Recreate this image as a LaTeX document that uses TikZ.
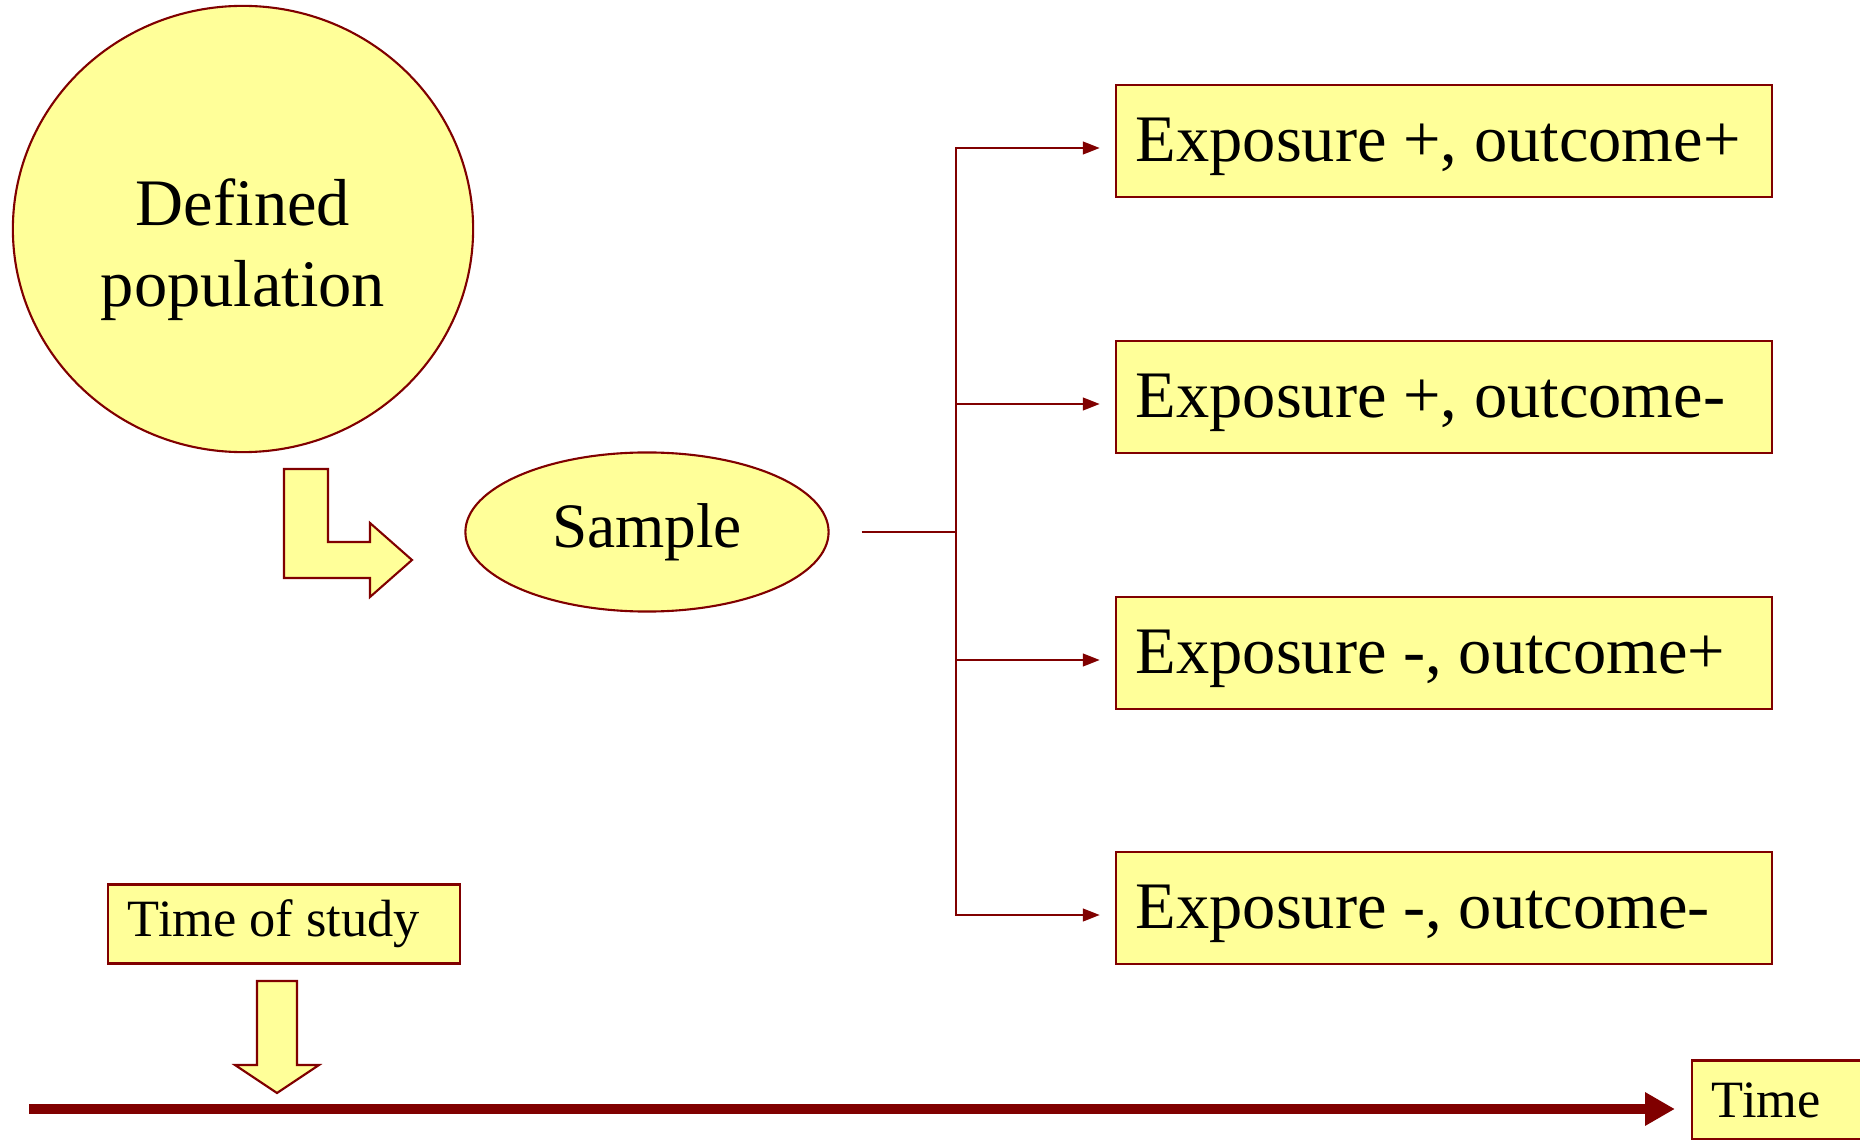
\documentclass[tikz,border=0pt]{standalone}
\usepackage{fontspec}
\setmainfont{Liberation Serif}
\usetikzlibrary{arrows.meta,positioning,shapes.geometric}
\definecolor{maroon}{HTML}{800000}
\definecolor{paleyellow}{HTML}{FFFF99}
\frenchspacing

\begin{document}
\begin{tikzpicture}[x=0.01cm,y=-0.01cm]
\tikzset{yellowfill/.style={draw=maroon,fill=paleyellow,line width=0.6pt}}
\tikzset{bigtext/.style={font=\fontsize{18.9}{23}\selectfont}}
\tikzset{outcome/.style={yellowfill,bigtext,minimum width=6.56cm,minimum height=1.12cm,
text width=6.16cm,align=flush left,inner xsep=0.2cm,text height=0.56cm,text depth=0.15cm}}
\tikzset{smallbox/.style={yellowfill,minimum height=0.79cm,align=flush left,inner xsep=0.2cm,
font=\fontsize{14.9}{17}\selectfont}}
\tikzset{branch/.style={draw=maroon,line width=0.6pt,
-{Triangle[length=4.8pt,width=3.6pt]},shorten >=0.15cm}}
\useasboundingbox (0,0) rectangle (1860,1140);
% population and sample
\node [yellowfill,ellipse,bigtext,minimum width=4.6cm,minimum height=4.46cm,align=center]
(population) at (243,229) {\rule{0pt}{0.88cm}Defined\\population};
\node [yellowfill,ellipse,font=\fontsize{18}{22}\selectfont,minimum width=3.63cm,minimum height=1.59cm]
(sample) at (647,532) {Sample};
\draw [yellowfill] (284,469) -- (328,469) -- (328,542) -- (370,542) -- (370,523)
-- (412,560) -- (370,597) -- (370,578) -- (284,578) -- cycle;
% the four groups
\node [outcome] (pp) at (1444,141) {Exposure +, outcome+};
\node [outcome] (pm) at (1444,397) {Exposure +, outcome-};
\node [outcome] (mp) at (1444,653) {Exposure -, outcome+};
\node [outcome] (mm) at (1444,908) {Exposure -, outcome-};
\coordinate (fork) at (956,532);
\draw [draw=maroon,line width=0.6pt,shorten <=0.32cm] (sample.east) -- (fork);
\draw [branch] (fork) |- ([yshift=-0.07cm]pp.west);
\draw [branch] (fork) |- ([yshift=-0.07cm]pm.west);
\draw [branch] (fork) |- ([yshift=-0.07cm]mp.west);
\draw [branch] (fork) |- ([yshift=-0.07cm]mm.west);
% time axis
\node [smallbox,minimum width=3.52cm,text width=3.12cm] (studytime) at (284,924) {Time of study};
\node [smallbox,minimum width=1.9cm,text width=1.5cm] (timebox) at (1787,1100) {Time};
\draw [yellowfill] (257,981) -- (297,981) -- (297,1065) -- (319,1065) -- (277,1093)
-- (235,1065) -- (257,1065) -- cycle;
\coordinate (tstart) at (29,1109);
\draw [draw=maroon,line width=2.85pt,-{Triangle[length=8.5pt,width=9pt]},shorten >=0.16cm]
(tstart) -- (timebox.west |- tstart);
\end{tikzpicture}
\end{document}
